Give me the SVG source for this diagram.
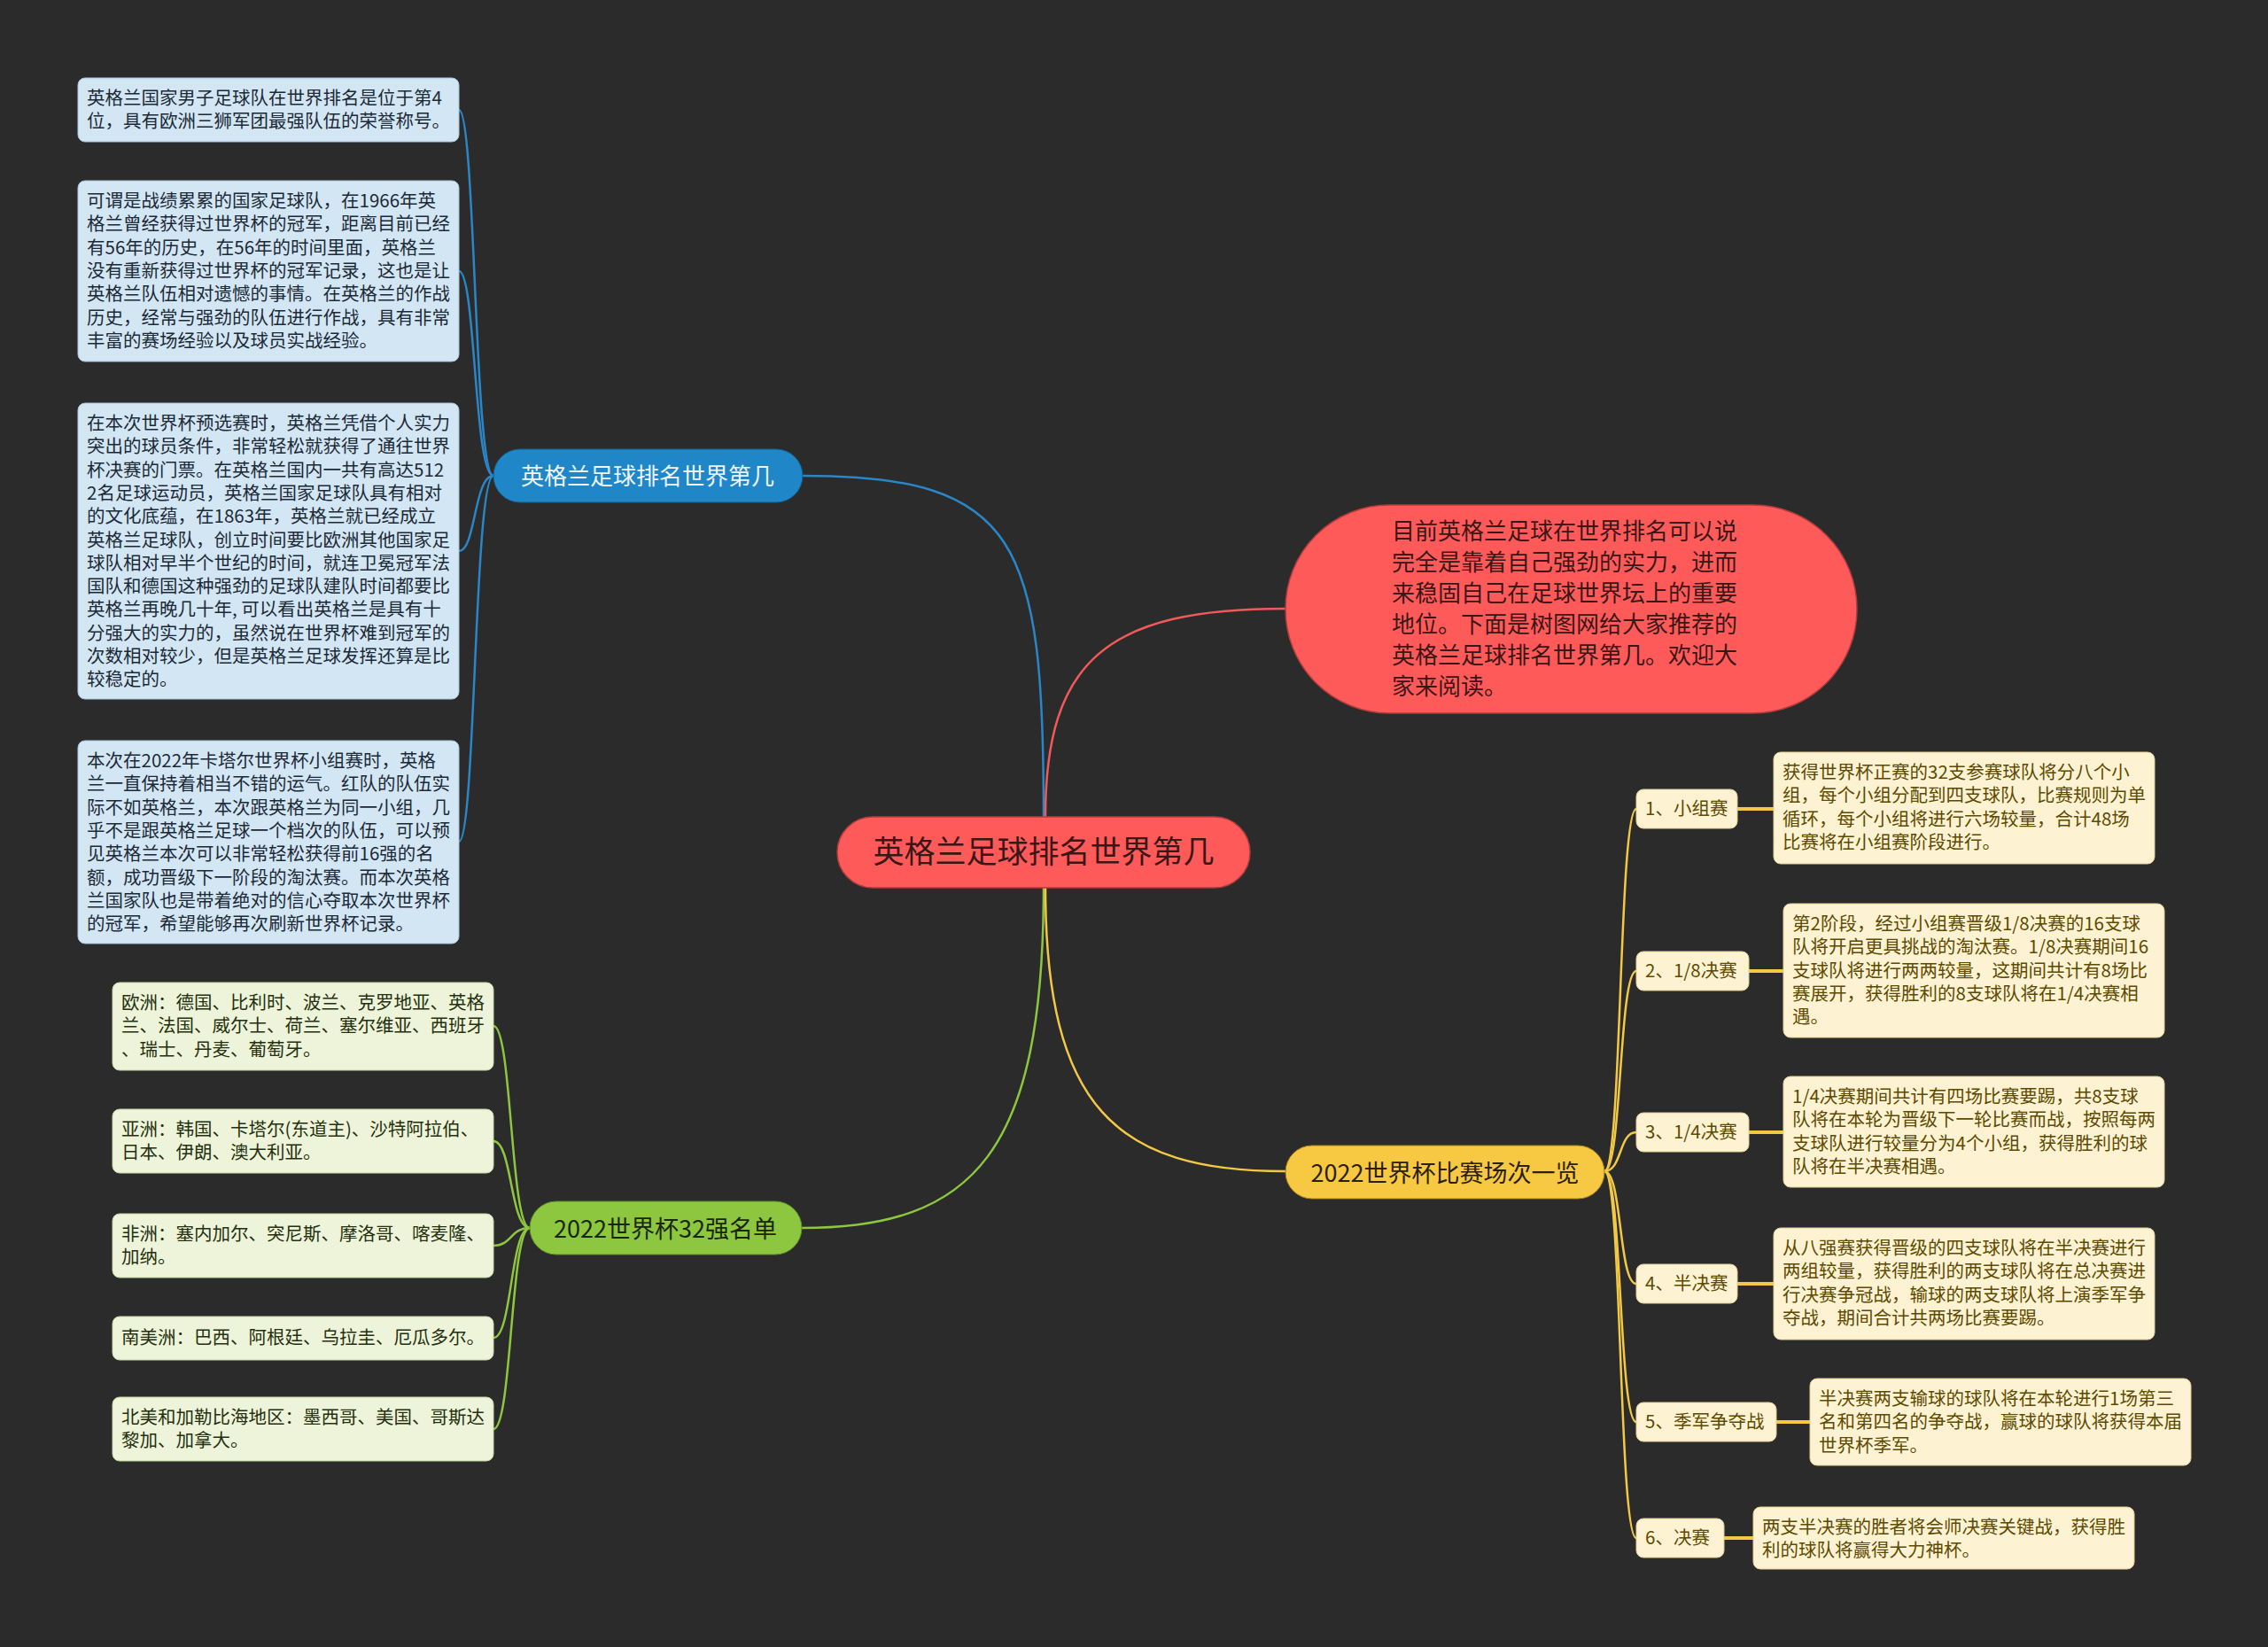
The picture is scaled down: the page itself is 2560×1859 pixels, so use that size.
<svg xmlns="http://www.w3.org/2000/svg" width="2560" height="1859" viewBox="0 0 2560 1859">
<style>
text{font-family:"Noto Sans CJK SC","Noto Sans",sans-serif;}
.bg{fill:#2b2b2b;}
.sm{font-size:20.5px;}
.bbox{fill:#d3e6f3;stroke:#a9c6dc;stroke-width:1;}
.gbox{fill:#eef4d9;stroke:#c5d6a4;stroke-width:1;}
.ybox{fill:#fdf3d3;stroke:#e2cf95;stroke-width:1;}
.bt{fill:#1c2a38;}
.gt{fill:#24300f;}
.yt{fill:#5e4a00;}
.cb{fill:none;stroke:#2a86c6;stroke-width:2.5;}
.cg{fill:none;stroke:#8dc63f;stroke-width:2.5;}
.cy{fill:none;stroke:#f3c845;stroke-width:2.5;}
.cyt{fill:none;stroke:#f3c845;stroke-width:4;}
.cr{fill:none;stroke:#f05a5a;stroke-width:2.5;}
</style>
<rect class="bg" x="0" y="0" width="2560" height="1859"/>

<g id="connectors">
<path class="cb" d="M1178 922 C1178 610 1150 537 906 537"/>
<path class="cr" d="M1180 922 C1180 745 1250 687 1451 687"/>
<path class="cg" d="M1178 1001 C1178 1300 1100 1386 905 1386"/>
<path class="cy" d="M1180 1001 C1180 1250 1260 1322 1451 1322"/>
<path class="cb" d="M557 537 C535 537 537 124 518 124"/>
<path class="cb" d="M557 537 C535 537 537 306 518 306"/>
<path class="cb" d="M557 537 C535 537 537 622 518 622"/>
<path class="cb" d="M557 537 C535 537 537 950 518 950"/>
<path class="cg" d="M598 1386 C576 1386 578 1158 557 1158"/>
<path class="cg" d="M598 1386 C576 1386 578 1288 557 1288"/>
<path class="cg" d="M598 1386 C576 1386 578 1406 557 1406"/>
<path class="cg" d="M598 1386 C576 1386 578 1510 557 1510"/>
<path class="cg" d="M598 1386 C576 1386 578 1613 557 1613"/>
<path class="cy" d="M1811 1322 C1831 1322 1827 913 1847 913"/>
<path class="cy" d="M1811 1322 C1831 1322 1827 1096 1847 1096"/>
<path class="cy" d="M1811 1322 C1831 1322 1827 1278 1847 1278"/>
<path class="cy" d="M1811 1322 C1831 1322 1827 1449 1847 1449"/>
<path class="cy" d="M1811 1322 C1831 1322 1827 1605 1847 1605"/>
<path class="cy" d="M1811 1322 C1831 1322 1827 1736 1847 1736"/>
<path class="cyt" d="M1961 913 L2002 913"/>
<path class="cyt" d="M1974 1096 L2013 1096"/>
<path class="cyt" d="M1974 1278 L2013 1278"/>
<path class="cyt" d="M1961 1449 L2002 1449"/>
<path class="cyt" d="M2005 1605 L2043 1605"/>
<path class="cyt" d="M1946 1736 L1979 1736"/>
</g>

<g id="root">
<rect x="945" y="922" width="466" height="80" rx="40" fill="#ff5a5a" stroke="#b23c3c" stroke-width="1.5"/>
<text x="1178" y="974" font-size="35" fill="#3a1616" text-anchor="middle">英格兰足球排名世界第几</text>
</g>

<g id="intro">
<rect x="1451" y="570" width="645" height="235" rx="117" fill="#ff5a5a" stroke="#b23c3c" stroke-width="1.5"/>
<text font-size="26" fill="#3a1616">
<tspan x="1571" y="609">目前英格兰足球在世界排名可以说</tspan>
<tspan x="1571" y="644">完全是靠着自己强劲的实力，进而</tspan>
<tspan x="1571" y="679">来稳固自己在足球世界坛上的重要</tspan>
<tspan x="1571" y="714">地位。下面是树图网给大家推荐的</tspan>
<tspan x="1571" y="749">英格兰足球排名世界第几。欢迎大</tspan>
<tspan x="1571" y="784">家来阅读。</tspan>
</text>
</g>

<g id="branch-blue">
<rect x="557" y="507" width="349" height="60" rx="30" fill="#1f86c8" stroke="#15608f" stroke-width="1"/>
<text x="731" y="547" font-size="26" fill="#eef4fa" text-anchor="middle">英格兰足球排名世界第几</text>
</g>

<g id="blue-1">
<rect class="bbox" x="88" y="88" width="430" height="72" rx="8"/>
<text class="sm bt"><tspan x="98" y="118">英格兰国家男子足球队在世界排名是位于第4</tspan><tspan x="98" y="144.3">位，具有欧洲三狮军团最强队伍的荣誉称号。</tspan></text>
</g>
<g id="blue-2">
<rect class="bbox" x="88" y="204" width="430" height="204" rx="8"/>
<text class="sm bt">
<tspan x="98" y="234">可谓是战绩累累的国家足球队，在1966年英</tspan>
<tspan x="98" y="260.3">格兰曾经获得过世界杯的冠军，距离目前已经</tspan>
<tspan x="98" y="286.6">有56年的历史，在56年的时间里面，英格兰</tspan>
<tspan x="98" y="312.9">没有重新获得过世界杯的冠军记录，这也是让</tspan>
<tspan x="98" y="339.2">英格兰队伍相对遗憾的事情。在英格兰的作战</tspan>
<tspan x="98" y="365.5">历史，经常与强劲的队伍进行作战，具有非常</tspan>
<tspan x="98" y="391.8">丰富的赛场经验以及球员实战经验。</tspan>
</text>
</g>
<g id="blue-3">
<rect class="bbox" x="88" y="455" width="430" height="334" rx="8"/>
<text class="sm bt">
<tspan x="98" y="485">在本次世界杯预选赛时，英格兰凭借个人实力</tspan>
<tspan x="98" y="511.3">突出的球员条件，非常轻松就获得了通往世界</tspan>
<tspan x="98" y="537.6">杯决赛的门票。在英格兰国内一共有高达512</tspan>
<tspan x="98" y="563.9">2名足球运动员，英格兰国家足球队具有相对</tspan>
<tspan x="98" y="590.2">的文化底蕴，在1863年，英格兰就已经成立</tspan>
<tspan x="98" y="616.5">英格兰足球队，创立时间要比欧洲其他国家足</tspan>
<tspan x="98" y="642.8">球队相对早半个世纪的时间，就连卫冕冠军法</tspan>
<tspan x="98" y="669.1">国队和德国这种强劲的足球队建队时间都要比</tspan>
<tspan x="98" y="695.4">英格兰再晚几十年, 可以看出英格兰是具有十</tspan>
<tspan x="98" y="721.7">分强大的实力的，虽然说在世界杯难到冠军的</tspan>
<tspan x="98" y="748">次数相对较少，但是英格兰足球发挥还算是比</tspan>
<tspan x="98" y="774.3">较稳定的。</tspan>
</text>
</g>
<g id="blue-4">
<rect class="bbox" x="88" y="836" width="430" height="229" rx="8"/>
<text class="sm bt">
<tspan x="98" y="866">本次在2022年卡塔尔世界杯小组赛时，英格</tspan>
<tspan x="98" y="892.3">兰一直保持着相当不错的运气。红队的队伍实</tspan>
<tspan x="98" y="918.6">际不如英格兰，本次跟英格兰为同一小组，几</tspan>
<tspan x="98" y="944.9">乎不是跟英格兰足球一个档次的队伍，可以预</tspan>
<tspan x="98" y="971.2">见英格兰本次可以非常轻松获得前16强的名</tspan>
<tspan x="98" y="997.5">额，成功晋级下一阶段的淘汰赛。而本次英格</tspan>
<tspan x="98" y="1023.8">兰国家队也是带着绝对的信心夺取本次世界杯</tspan>
<tspan x="98" y="1050.1">的冠军，希望能够再次刷新世界杯记录。</tspan>
</text>
</g>

<g id="branch-green">
<rect x="598" y="1356" width="307" height="60" rx="30" fill="#8dc63f" stroke="#5f8f22" stroke-width="1"/>
<text x="751" y="1397" font-size="27" fill="#1a2608" text-anchor="middle">2022世界杯32强名单</text>
</g>
<g id="green-1">
<rect class="gbox" x="127" y="1109" width="430" height="99" rx="8"/>
<text class="sm gt">
<tspan x="137" y="1139">欧洲：德国、比利时、波兰、克罗地亚、英格</tspan>
<tspan x="137" y="1165.3">兰、法国、威尔士、荷兰、塞尔维亚、西班牙</tspan>
<tspan x="137" y="1191.6">、瑞士、丹麦、葡萄牙。</tspan>
</text>
</g>
<g id="green-2">
<rect class="gbox" x="127" y="1252" width="430" height="72" rx="8"/>
<text class="sm gt"><tspan x="137" y="1282">亚洲：韩国、卡塔尔(东道主)、沙特阿拉伯、</tspan><tspan x="137" y="1308.3">日本、伊朗、澳大利亚。</tspan></text>
</g>
<g id="green-3">
<rect class="gbox" x="127" y="1370" width="430" height="72" rx="8"/>
<text class="sm gt"><tspan x="137" y="1400">非洲：塞内加尔、突尼斯、摩洛哥、喀麦隆、</tspan><tspan x="137" y="1426.3">加纳。</tspan></text>
</g>
<g id="green-4">
<rect class="gbox" x="127" y="1486" width="430" height="49" rx="8"/>
<text class="sm gt" x="137" y="1517">南美洲：巴西、阿根廷、乌拉圭、厄瓜多尔。</text>
</g>
<g id="green-5">
<rect class="gbox" x="127" y="1577" width="430" height="72" rx="8"/>
<text class="sm gt"><tspan x="137" y="1607">北美和加勒比海地区：墨西哥、美国、哥斯达</tspan><tspan x="137" y="1633.3">黎加、加拿大。</tspan></text>
</g>

<g id="branch-yellow">
<rect x="1451" y="1293" width="360" height="60" rx="30" fill="#f7c842" stroke="#a88417" stroke-width="1"/>
<text x="1631" y="1334" font-size="27" fill="#2a2000" text-anchor="middle">2022世界杯比赛场次一览</text>
</g>

<g id="stage-1">
<rect class="ybox" x="1847" y="891" width="114" height="44" rx="8"/>
<text class="sm yt" x="1857" y="920">1、小组赛</text>
</g>
<g id="stage-1-desc">
<rect class="ybox" x="2002" y="849" width="430" height="126" rx="8"/>
<text class="sm yt">
<tspan x="2012" y="879">获得世界杯正赛的32支参赛球队将分八个小</tspan>
<tspan x="2012" y="905.3">组，每个小组分配到四支球队，比赛规则为单</tspan>
<tspan x="2012" y="931.6">循环，每个小组将进行六场较量，合计48场</tspan>
<tspan x="2012" y="957.9">比赛将在小组赛阶段进行。</tspan>
</text>
</g>
<g id="stage-2">
<rect class="ybox" x="1847" y="1074" width="127" height="44" rx="8"/>
<text class="sm yt" x="1857" y="1103">2、1/8决赛</text>
</g>
<g id="stage-2-desc">
<rect class="ybox" x="2013" y="1020" width="430" height="151" rx="8"/>
<text class="sm yt">
<tspan x="2023" y="1050">第2阶段，经过小组赛晋级1/8决赛的16支球</tspan>
<tspan x="2023" y="1076.3">队将开启更具挑战的淘汰赛。1/8决赛期间16</tspan>
<tspan x="2023" y="1102.6">支球队将进行两两较量，这期间共计有8场比</tspan>
<tspan x="2023" y="1128.9">赛展开，获得胜利的8支球队将在1/4决赛相</tspan>
<tspan x="2023" y="1155.2">遇。</tspan>
</text>
</g>
<g id="stage-3">
<rect class="ybox" x="1847" y="1256" width="127" height="44" rx="8"/>
<text class="sm yt" x="1857" y="1285">3、1/4决赛</text>
</g>
<g id="stage-3-desc">
<rect class="ybox" x="2013" y="1215" width="430" height="125" rx="8"/>
<text class="sm yt">
<tspan x="2023" y="1245">1/4决赛期间共计有四场比赛要踢，共8支球</tspan>
<tspan x="2023" y="1271.3">队将在本轮为晋级下一轮比赛而战，按照每两</tspan>
<tspan x="2023" y="1297.6">支球队进行较量分为4个小组，获得胜利的球</tspan>
<tspan x="2023" y="1323.9">队将在半决赛相遇。</tspan>
</text>
</g>
<g id="stage-4">
<rect class="ybox" x="1847" y="1427" width="114" height="44" rx="8"/>
<text class="sm yt" x="1857" y="1456">4、半决赛</text>
</g>
<g id="stage-4-desc">
<rect class="ybox" x="2002" y="1386" width="430" height="126" rx="8"/>
<text class="sm yt">
<tspan x="2012" y="1416">从八强赛获得晋级的四支球队将在半决赛进行</tspan>
<tspan x="2012" y="1442.3">两组较量，获得胜利的两支球队将在总决赛进</tspan>
<tspan x="2012" y="1468.6">行决赛争冠战，输球的两支球队将上演季军争</tspan>
<tspan x="2012" y="1494.9">夺战，期间合计共两场比赛要踢。</tspan>
</text>
</g>
<g id="stage-5">
<rect class="ybox" x="1847" y="1583" width="158" height="44" rx="8"/>
<text class="sm yt" x="1857" y="1612">5、季军争夺战</text>
</g>
<g id="stage-5-desc">
<rect class="ybox" x="2043" y="1556" width="430" height="98" rx="8"/>
<text class="sm yt">
<tspan x="2053" y="1586">半决赛两支输球的球队将在本轮进行1场第三</tspan>
<tspan x="2053" y="1612.3">名和第四名的争夺战，赢球的球队将获得本届</tspan>
<tspan x="2053" y="1638.6">世界杯季军。</tspan>
</text>
</g>
<g id="stage-6">
<rect class="ybox" x="1847" y="1714" width="99" height="44" rx="8"/>
<text class="sm yt" x="1857" y="1743">6、决赛</text>
</g>
<g id="stage-6-desc">
<rect class="ybox" x="1979" y="1701" width="430" height="70" rx="8"/>
<text class="sm yt">
<tspan x="1989" y="1731">两支半决赛的胜者将会师决赛关键战，获得胜</tspan>
<tspan x="1989" y="1757.3">利的球队将赢得大力神杯。</tspan>
</text>
</g>
</svg>
